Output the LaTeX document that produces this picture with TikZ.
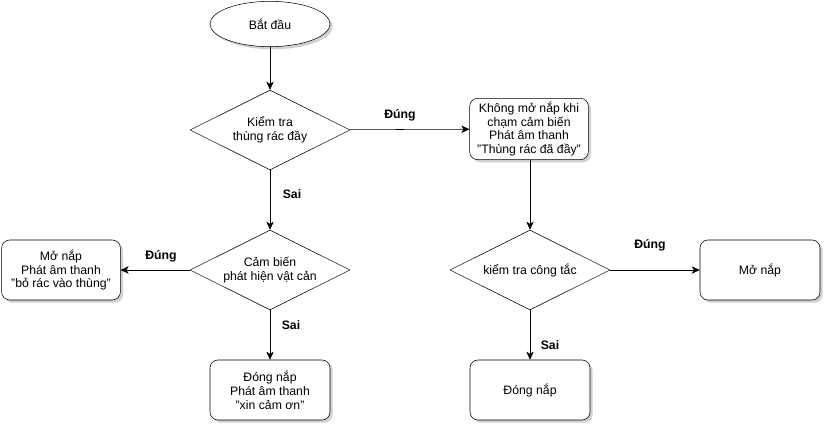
\documentclass[tikz,border=0pt]{standalone}
\usepackage{fontspec}
\setmainfont{Liberation Sans}
\usepackage{tikz}
\usetikzlibrary{arrows.meta, shapes.geometric, shadows}
\definecolor{flowline}{HTML}{000000}
\definecolor{flowshade}{HTML}{8C8C8C}
\definecolor{flowfill}{HTML}{FFFFFF}

\tikzset{
  flowfont/.style={font=\fontsize{9.2}{10.4}\selectfont},
  flowshadow/.style={drop shadow={shadow xshift=2pt, shadow yshift=-2pt, fill=flowshade, opacity=0.4}},
  startnode/.style={ellipse, draw=flowline, fill=flowfill, minimum width=90pt, minimum height=34pt, inner sep=0pt, flowfont, flowshadow},
  decision/.style={diamond, aspect=2, draw=flowline, fill=flowfill, minimum width=120pt, minimum height=60pt, inner sep=0pt, align=center, flowfont},
  actbox/.style={draw=flowline, fill=flowfill, rounded corners=6pt, minimum width=89pt, minimum height=45pt, inner sep=1pt, align=center, flowfont, flowshadow},
  flowarrow/.style={draw=flowline, -{Stealth[length=6pt, width=5.5pt, inset=1.6pt]}},
  branch/.style={font=\fontsize{9.2}{10.4}\selectfont\bfseries}
}

\begin{document}
\begin{tikzpicture}[x=0.75pt, y=-0.75pt]
  \useasboundingbox (0,0) rectangle (832,432);
  % left column
  \node[startnode] (start) at (270,24) {Bắt đầu};
  \node[decision] (chkfull) at (270,130) {Kiểm tra\\thùng rác đầy};
  \node[decision] (sensor) at (270,270) {Cảm biến\\phát hiện vật cản};
  \node[actbox] (openlid) at (61,270) {Mở nắp\\Phát âm thanh\\"bỏ rác vào thùng"};
  \node[actbox, minimum width=90pt] (thanks) at (270,390) {Đóng nắp\\Phát âm thanh\\"xin cảm ơn"};
  % right column
  \node[actbox, minimum height=46pt] (fullbox) at (529,129) {Không mở nắp khi\\chạm cảm biến\\Phát âm thanh\\"Thùng rác đã đầy"};
  \node[decision] (chkswitch) at (530,270) {kiểm tra công tắc};
  \node[actbox, minimum width=90pt] (openonly) at (760,270) {Mở nắp};
  \node[actbox, minimum width=90pt] (closeonly) at (530,390) {Đóng nắp};
  % connectors
  \draw[flowarrow] (start) -- (chkfull);
  \draw[flowarrow] (chkfull) -- (fullbox);
  \draw[flowarrow] (chkfull) -- (sensor);
  \draw[flowarrow] (sensor) -- (openlid);
  \draw[flowarrow] (sensor) -- (thanks);
  \draw[flowarrow] (fullbox.south -| chkswitch) -- (chkswitch);
  \draw[flowarrow] (chkswitch) -- (openonly);
  \draw[flowarrow] (chkswitch) -- (closeonly);
  % branch labels
  \node[branch] (yes1) at (400,115) {Đúng};
  \node[branch] (no1) at (292,194) {Sai};
  \node[branch] (yes2) at (161,256) {Đúng};
  \node[branch] (no2) at (291,325) {Sai};
  \node[branch] (yes3) at (650,245) {Đúng};
  \node[branch] (no3) at (550,345) {Sai};
\end{tikzpicture}
\end{document}
